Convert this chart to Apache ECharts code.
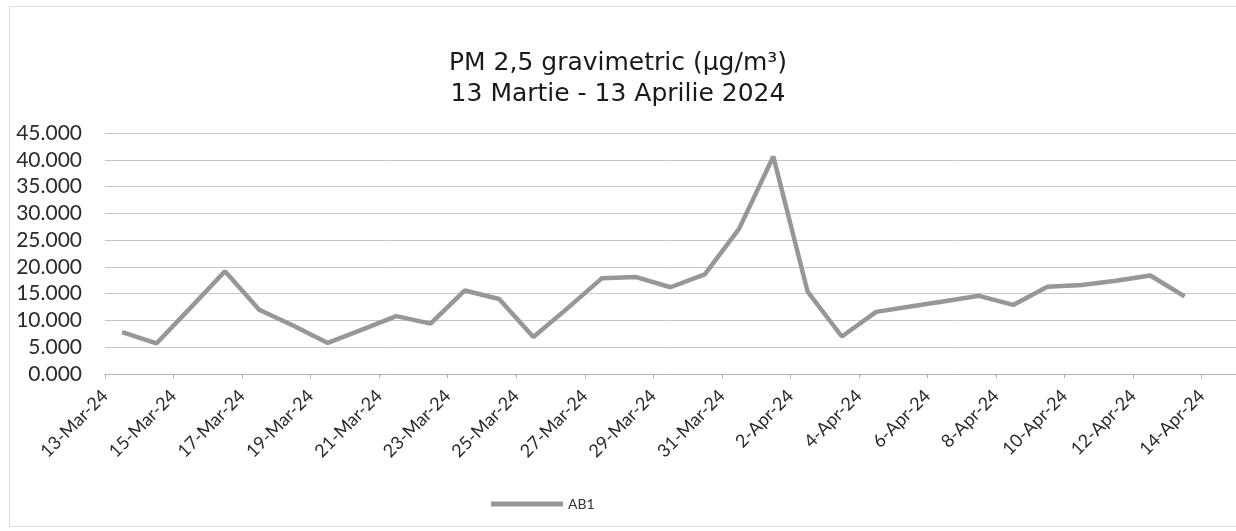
<!DOCTYPE html>
<html>
<head>
<meta charset="utf-8">
<script src="https://cdn.jsdelivr.net/npm/echarts@6/dist/echarts.min.js"></script>
<style>
  html, body { margin: 0; padding: 0; background: #fff; }
  #chart { width: 1236px; height: 531px; }
</style>
</head>
<body>
<div id="chart"></div>
<script>
// zilele masurate (13 Martie - 13 Aprilie 2024)
const categories = [
  '13-Mar-24', '14-Mar-24', '15-Mar-24', '16-Mar-24', '17-Mar-24', '18-Mar-24', '19-Mar-24', '20-Mar-24',
  '21-Mar-24', '22-Mar-24', '23-Mar-24', '24-Mar-24', '25-Mar-24', '26-Mar-24', '27-Mar-24', '28-Mar-24',
  '29-Mar-24', '30-Mar-24', '31-Mar-24', '1-Apr-24', '2-Apr-24', '3-Apr-24', '4-Apr-24', '5-Apr-24',
  '6-Apr-24', '7-Apr-24', '8-Apr-24', '9-Apr-24', '10-Apr-24', '11-Apr-24', '12-Apr-24', '13-Apr-24'
]

// valori PM 2,5 (ug/m3)
const ab1 = [
  7.8, 5.7, 12.4, 19.2, 12.0, 9.0, 5.8, 8.3,
  10.8, 9.4, 15.6, 14.0, 6.9, 12.3, 17.9, 18.1,
  16.2, 18.6, 27.1, 40.6, 15.4, 7.0, 11.6, 12.6,
  13.6, 14.6, 12.9, 16.3, 16.6, 17.4, 18.4, 14.5
]

// etichete axa X (din 2 in 2 zile)
const tickLabels = [
  '13-Mar-24', '15-Mar-24', '17-Mar-24', '19-Mar-24', '21-Mar-24', '23-Mar-24', '25-Mar-24', '27-Mar-24',
  '29-Mar-24', '31-Mar-24', '2-Apr-24', '4-Apr-24', '6-Apr-24', '8-Apr-24', '10-Apr-24', '12-Apr-24', '14-Apr-24'
]

const yTicks = [0, 5, 10, 15, 20, 25, 30, 35, 40, 45]

let myChart = echarts.init(document.getElementById('chart'))

const option = {
  backgroundColor: '#fff',
  animation: false,
  title: {
    text: 'PM 2,5 gravimetric (µg/m³)\n13 Martie - 13 Aprilie 2024',
    left: 'center',
    top: 43,
    padding: [5, 0, 5, 18],
    textStyle: {
      fontFamily: 'DejaVu Sans',
      fontSize: 25,
      fontWeight: 'normal',
      color: '#1a1a1a',
      lineHeight: 31
    }
  },
  legend: {
    data: ['AB1'],
    left: 486,
    top: 492,
    icon: 'rect',
    itemWidth: 72,
    itemHeight: 5,
    textStyle: { fontFamily: 'Lato', fontSize: 14, color: '#333' }
  },
  grid: {
    left: 105,
    right: 0,
    top: 133,
    bottom: 157
  },
  xAxis: {
    type: 'value',
    min: 0,
    max: categories.length + 1,
    interval: 2,
    splitLine: { show: false },
    axisLine: { show: true, lineStyle: { color: '#b5b5b5', width: 1 } },
    axisTick: { show: true, length: 4, lineStyle: { color: '#aaa' } },
    axisLabel: {
      rotate: 45,
      margin: 19,
      fontFamily: 'Lato',
      fontSize: 18,
      color: '#2a2a2a',
      showMaxLabel: false,
      formatter: v => (v % 2 === 0 && tickLabels[v / 2]) || ''
    }
  },
  yAxis: {
    type: 'value',
    min: yTicks[0],
    max: yTicks[yTicks.length - 1],
    interval: 5,
    axisLine: { show: false },
    axisTick: { show: false },
    splitLine: { lineStyle: { color: '#c6c6c6', width: 1 } },
    axisLabel: {
      margin: 23,
      fontFamily: 'Lato',
      fontSize: 21,
      color: '#2a2a2a',
      formatter: v => v.toFixed(3)
    }
  },
  series: [{
    name: 'AB1',
    type: 'line',
    // punctele sunt centrate in ziua lor, ca in Excel
    data: ab1.map((v, i) => [i + 0.5, v]),
    showSymbol: false,
    symbol: 'none',
    color: '#979797',
    lineStyle: { color: '#979797', width: 4.5 }
  }],
  graphic: [{
    type: 'rect',
    shape: { x: 9.5, y: 6.5, width: 1240, height: 520 },
    style: { fill: 'none', stroke: '#dcdcdc', lineWidth: 1 },
    silent: true
  }]
}

myChart.setOption(option)
window.onresize = function () {
  myChart.resize()
}
</script>
</body>
</html>
